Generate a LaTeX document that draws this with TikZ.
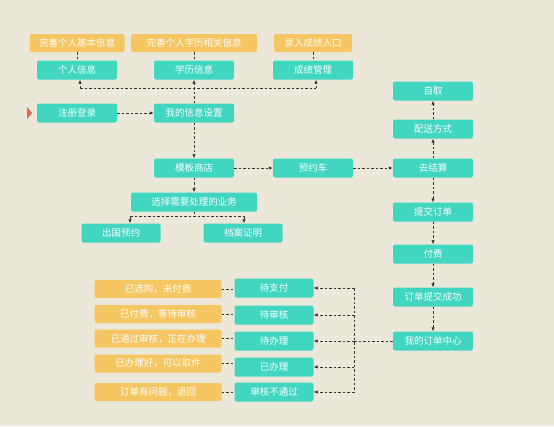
\documentclass[tikz,border=0pt]{standalone}
\usepackage{fontspec}
\newfontfamily\cjk{Noto Sans CJK SC}
\usetikzlibrary{arrows.meta}
\definecolor{bgc}{RGB}{236,232,217}
\definecolor{tealc}{RGB}{64,214,192}
\definecolor{yelc}{RGB}{246,198,98}
\definecolor{redc}{RGB}{229,96,80}
\definecolor{linec}{RGB}{50,50,50}
\begin{document}
\begin{tikzpicture}[x=1pt,y=-1pt,
  base/.style={rounded corners=2pt, text=white, inner sep=0pt, minimum height=19pt,
    font=\cjk\fontsize{9.5}{11}\selectfont},
  gbox/.style={base, fill=tealc, minimum width=80pt},
  ybox/.style={base, fill=yelc, minimum height=18pt},
  dl/.style={draw=linec, line width=0.8pt, dash pattern=on 2.5pt off 2pt},
  dla/.style={dl, -{Latex[length=4pt,width=3.5pt]}}
]
\fill[bgc] (0,0) rectangle (554,426);
\useasboundingbox (0,0) rectangle (554,426);

% top yellow
\node[ybox, minimum width=95pt] (y1) at (77,43) {完善个人基本信息};
\node[ybox, minimum width=126pt] (y2) at (194,43) {完善个人学历相关信息};
\node[ybox, minimum width=78pt] (y3) at (313,43) {录入成绩入口};
% top green
\node[gbox] (geren) at (77,70) {个人信息};
\node[gbox] (xueli) at (194,70) {学历信息};
\node[gbox] (chengji) at (313,70) {成绩管理};
\node[gbox] (zhuce) at (77,113) {注册登录};
\node[gbox] (shezhi) at (194,113) {我的信息设置};
\node[gbox] (shangdian) at (194,168) {模板商店};
\node[gbox] (yuyue) at (313,168) {预约车};
\node[gbox] (jiesuan) at (433,168) {去结算};
\node[gbox] (ziqu) at (433,91) {自取};
\node[gbox] (peisong) at (433,129) {配送方式};
\node[gbox] (tijiao) at (433,212) {提交订单};
\node[gbox] (fufei) at (433,254) {付费};
\node[gbox] (chenggong) at (433,297) {订单提交成功};
\node[gbox] (zhongxin) at (433,341) {我的订单中心};
\node[gbox, minimum width=126pt] (xuanze) at (194,202) {选择需要处理的业务};
\node[gbox, minimum width=79pt] (chuguo) at (121,233) {出国预约};
\node[gbox, minimum width=79pt] (dangan) at (243,233) {档案证明};

% bottom states
\node[gbox, minimum width=79pt] (s1) at (274,288) {待支付};
\node[gbox, minimum width=79pt] (s2) at (274,315) {待审核};
\node[gbox, minimum width=79pt] (s3) at (274,341) {待办理};
\node[gbox, minimum width=79pt] (s4) at (274,367) {已办理};
\node[gbox, minimum width=79pt] (s5) at (274,392) {审核不通过};
\node[ybox, minimum width=127pt] (d1) at (158,289) {已选购，未付费};
\node[ybox, minimum width=127pt] (d2) at (158,314) {已付费，等待审核};
\node[ybox, minimum width=127pt] (d3) at (158,338.5) {已通过审核，正在办理};
\node[ybox, minimum width=127pt] (d4) at (158,363.5) {已办理好，可以取件};
\node[ybox, minimum width=127pt] (d5) at (158,392) {订单有问题，退回};

% red marker
\fill[redc] (27,107) -- (32,113) -- (27,119) -- cycle;

% top connectors
\draw[dl] (y1) -- (geren);
\draw[dl] (y2) -- (xueli);
\draw[dl] (y3) -- (chengji);
\coordinate (busL) at (80,88);
\coordinate (busR) at (316,88);
\draw[dl] (busL) -- (busR);
\draw[dla] (busL) -- (busL |- geren.south);
\draw[dla] (busR) -- (busR |- chengji.south);
\draw[dla] (shezhi.north) -- (xueli.south);
\draw[dla] (zhuce) -- (shezhi);
\draw[dla] (shezhi) -- (shangdian);
\draw[dla] (shangdian) -- (yuyue);
\draw[dla] (yuyue) -- (jiesuan);
\draw[dla] (jiesuan) -- (peisong);
\draw[dla] (peisong) -- (ziqu);
\draw[dla] (jiesuan) -- (tijiao);
\draw[dla] (tijiao) -- (fufei);
\draw[dla] (fufei) -- (chenggong);
\draw[dla] (chenggong) -- (zhongxin);

% business split
\coordinate (spL) at (130,216);
\coordinate (spR) at (244,216);
\draw[dl] (xuanze.south) -- (xuanze.south |- spL);
\draw[dl] (spL) -- (spR);
\draw[dla] (shangdian) -- (xuanze);
\draw[dla] (spL) -- (spL |- chuguo.north);
\draw[dla] (spR) -- (spR |- dangan.north);

% bottom bus
\coordinate (bb1) at (354,288);
\coordinate (bb2) at (354,315);
\coordinate (bb3) at (354,341);
\coordinate (bb4) at (354,367);
\coordinate (bb5) at (354,392);
\draw[dl] (bb1) -- (bb5);
\draw[dl] (zhongxin.west) -- (bb3);
\foreach \i in {1,...,5} {
  \draw[dla] (bb\i) -- (s\i.east);
  \draw[dl] (d\i.east) -- (d\i.east -| s\i.west);
}
\end{tikzpicture}
\end{document}
